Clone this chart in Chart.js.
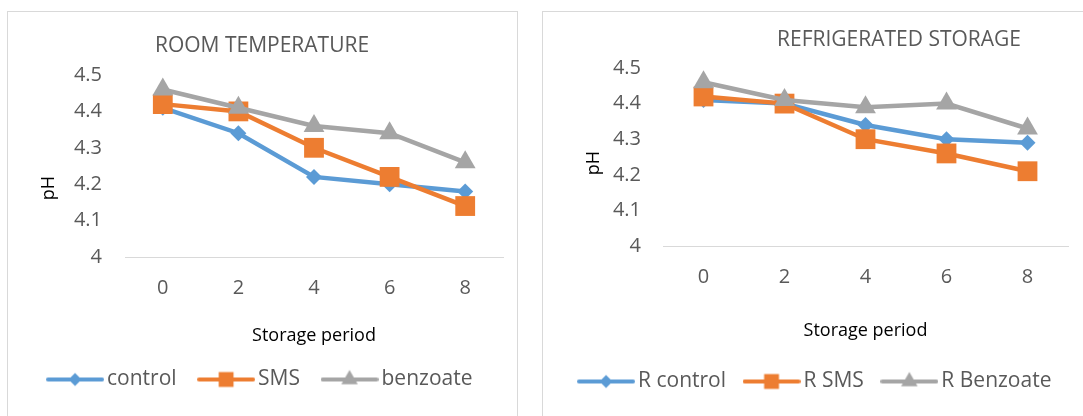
<!DOCTYPE html>
<html>
<head>
<meta charset="utf-8">
<script src="https://cdn.jsdelivr.net/npm/chart.js@4.4.1/dist/chart.umd.min.js"></script>
<style>
  html, body { margin: 0; padding: 0; background: #fff; }
  body { width: 1083px; height: 416px; position: relative; overflow: hidden; }
  .panel { position: absolute; top: 11px; height: 420px; border: 1px solid #d9d9d9; box-sizing: border-box; }
  #roomPanel { left: 7px; width: 511px; }
  #fridgePanel { left: 542px; width: 600px; }
  canvas { position: absolute; }
  #roomChart { left: 7px; top: 11px; }
  #fridgeChart { left: 542px; top: 11px; }
</style>
</head>
<body>
<div class="panel" id="roomPanel"></div>
<div class="panel" id="fridgePanel"></div>
<canvas id="roomChart" width="510" height="405"></canvas>
<canvas id="fridgeChart" width="541" height="405"></canvas>
<script>
// storage period (x categories) and pH ticks
const periods = ['0', '2', '4', '6', '8'];
const phTicks = [4, 4.1, 4.2, 4.3, 4.4, 4.5];

// room temperature
const roomControl = [4.41, 4.34, 4.22, 4.20, 4.18];
const roomSms = [4.42, 4.40, 4.30, 4.22, 4.14];
const roomBenzoate = [4.46, 4.41, 4.36, 4.34, 4.26];

// refrigerated storage
const fridgeControl = [4.41, 4.40, 4.34, 4.30, 4.29];
const fridgeSms = [4.42, 4.40, 4.30, 4.26, 4.21];
const fridgeBenzoate = [4.46, 4.41, 4.39, 4.40, 4.33];

const BLUE = '#5b9bd5';
const ORANGE = '#ed7d31';
const GRAY = '#a5a5a5';
const TEXT = '#595959';
const FONT = "'Open Sans', sans-serif";
const LEGEND_SIZE = 21;

// line + marker swatch used as the legend point style
function legendSwatch(color, style, radius) {
  const c = document.createElement('canvas');
  c.width = 58;
  c.height = 26;
  const ctx = c.getContext('2d');
  ctx.strokeStyle = color;
  ctx.lineWidth = 4;
  ctx.lineCap = 'round';
  ctx.beginPath();
  ctx.moveTo(2, 13);
  ctx.lineTo(56, 13);
  ctx.stroke();
  ctx.fillStyle = color;
  Chart.helpers.drawPoint(ctx, { pointStyle: style, radius, rotation: 0, borderWidth: 0 }, 29, 13);
  return c;
}

const panelText = {
  id: 'panelText',
  afterDraw(chart, args, opts) {
    const ctx = chart.ctx;
    ctx.save();
    ctx.textAlign = 'center';
    ctx.textBaseline = 'middle';
    ctx.fillStyle = TEXT;
    ctx.font = `21px ${FONT}`;
    ctx.fillText(opts.title, opts.titleX, opts.titleY);
    ctx.translate(opts.axisX, opts.axisY);
    ctx.rotate(-Math.PI / 2);
    ctx.fillStyle = '#000';
    ctx.font = `18px ${FONT}`;
    ctx.fillText('pH', 0, 0);
    ctx.restore();
  },
};

function makeChart(id, cfg) {
  const series = [
    { label: cfg.names[0], data: cfg.data[0], color: BLUE, style: 'rectRot', r: 8, lr: 6.5 },
    { label: cfg.names[1], data: cfg.data[1], color: ORANGE, style: 'rect', r: 14, lr: 10.5 },
    { label: cfg.names[2], data: cfg.data[2], color: GRAY, style: 'triangle', r: 12, lr: 9.5 },
  ];
  const legendHeight = LEGEND_SIZE + cfg.legendPad + 10;
  return new Chart(document.getElementById(id), {
    type: 'line',
    data: {
      labels: periods,
      datasets: series.map((s, i) => ({
        label: s.label,
        data: s.data,
        borderColor: s.color,
        backgroundColor: s.color,
        pointBackgroundColor: s.color,
        pointBorderWidth: 0,
        pointStyle: s.style,
        pointRadius: s.r,
        pointHoverRadius: s.r,
        borderWidth: 4.5,
        tension: 0,
        order: 3 - i,
        clip: false,
      })),
    },
    options: {
      responsive: false,
      animation: false,
      layout: { padding: cfg.pad },
      plugins: {
        tooltip: { enabled: false },
        title: { display: false },
        legend: {
          position: 'bottom',
          labels: {
            usePointStyle: true,
            pointStyleWidth: 43,
            padding: cfg.legendPad,
            color: TEXT,
            font: { family: FONT, size: LEGEND_SIZE },
            generateLabels: () => series.map((s, i) => ({
              text: s.label,
              fillStyle: s.color,
              strokeStyle: s.color,
              lineWidth: 0,
              pointStyle: legendSwatch(s.color, s.style, s.lr),
              fontColor: TEXT,
              hidden: false,
              datasetIndex: i,
            })),
          },
        },
        panelText: cfg.text,
      },
      scales: {
        x: {
          offset: true,
          grid: { drawOnChartArea: false, drawTicks: false },
          border: { color: '#d9d9d9', width: 1 },
          ticks: { color: TEXT, padding: 19, font: { family: FONT, size: 20 } },
          title: {
            display: true,
            text: 'Storage period',
            color: '#000',
            font: { family: FONT, size: 18, lineHeight: 1 },
            padding: { top: 0, bottom: cfg.xTitlePad },
          },
          afterFit: s => { s.height = cfg.below - cfg.pad.bottom - legendHeight; },
        },
        y: {
          min: 4,
          max: 4.5,
          grid: { display: false, drawTicks: false },
          border: { display: false },
          afterBuildTicks: s => { s.ticks = phTicks.map(v => ({ value: v })); },
          ticks: {
            autoSkip: false,
            color: TEXT,
            padding: cfg.yTickPad,
            font: { family: FONT, size: 20 },
            callback: v => String(+v.toFixed(1)),
          },
          afterFit: s => { s.width = cfg.yWidth; },
        },
        // empty right axis, only reserves the gap right of the plot
        gap: {
          type: 'linear',
          position: 'right',
          grid: { display: false },
          border: { display: false },
          ticks: { display: false },
          afterFit: s => { s.width = cfg.rightGap; },
        },
      },
    },
    plugins: [panelText],
  });
}

makeChart('roomChart', {
  names: ['control', 'SMS', 'benzoate'],
  data: [roomControl, roomSms, roomBenzoate],
  pad: { top: 64, left: 2, right: 0, bottom: 16 },
  yWidth: 116,
  yTickPad: 23,
  rightGap: 8,
  below: 159,
  legendPad: 28,
  xTitlePad: -4,
  text: { title: 'ROOM TEMPERATURE', titleX: 255, titleY: 35, axisX: 42, axisY: 177 },
});

makeChart('fridgeChart', {
  names: ['R control', 'R SMS', 'R Benzoate'],
  data: [fridgeControl, fridgeSms, fridgeBenzoate],
  pad: { top: 57, left: 11, right: 0, bottom: 14 },
  yWidth: 110,
  yTickPad: 22,
  rightGap: 15,
  below: 170,
  legendPad: 24,
  xTitlePad: 7,
  text: { title: 'REFRIGERATED STORAGE', titleX: 357, titleY: 29, axisX: 52, axisY: 152 },
});
</script>
</body>
</html>
